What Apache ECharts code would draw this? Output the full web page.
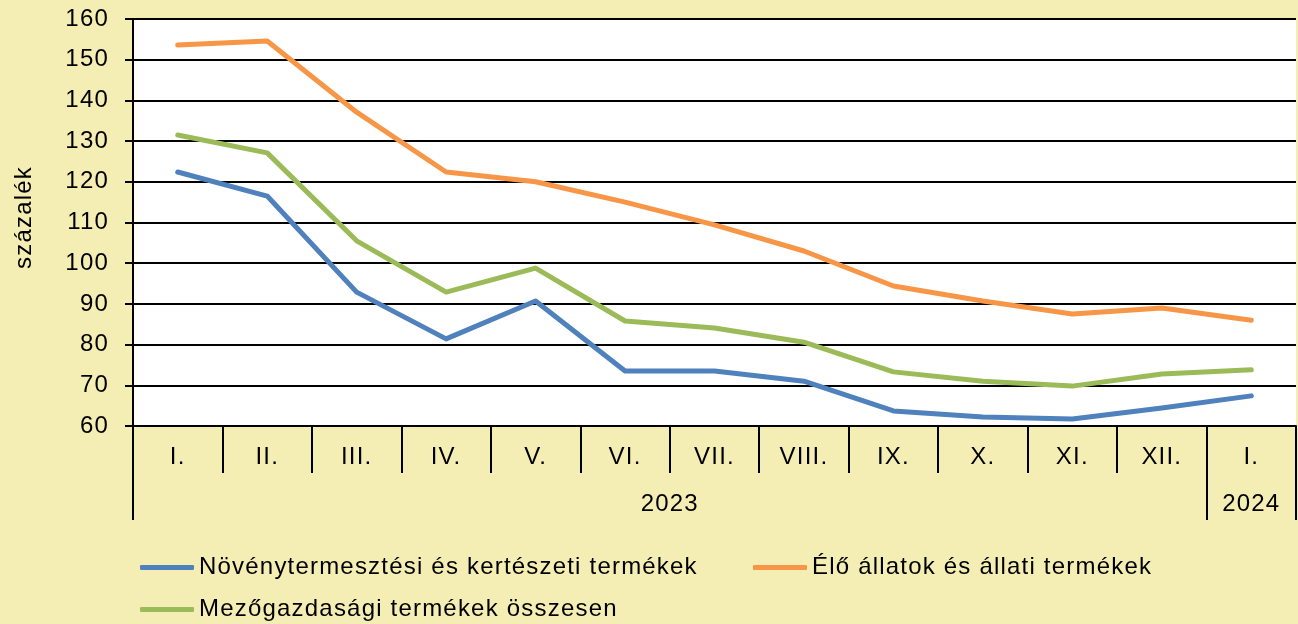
<!DOCTYPE html>
<html>
<head>
<meta charset="utf-8">
<script src="https://cdn.jsdelivr.net/npm/echarts@6/dist/echarts.min.js"></script>
<style>
  html, body { margin: 0; padding: 0; background: #F5EEB4; }
  #chart { width: 1298px; height: 624px; }
</style>
</head>
<body>
<div id="chart"></div>
<script>
// Monthly categories (2023 I. – 2024 I.)
const months = ['I.', 'II.', 'III.', 'IV.', 'V.', 'VI.', 'VII.', 'VIII.', 'IX.', 'X.', 'XI.', 'XII.', 'I.'];
// Year group labels: position on the group axis (in category units) and text
const yearLabelPos = [6, 12.5];
const yearLabels = ['2023', '2024'];
const yearBoundaries = [0, 12, 13];

const seriesNames = [
  'Növénytermesztési és kertészeti termékek',
  'Élő állatok és állati termékek',
  'Mezőgazdasági termékek összesen'
];
const crops   = [122.4, 116.5, 92.9, 81.4, 90.7, 73.5, 73.5, 71.0, 63.7, 62.2, 61.7, 64.4, 67.4];
const animals = [153.6, 154.6, 137.1, 122.4, 120.0, 115.0, 109.4, 103.0, 94.4, 90.7, 87.5, 89.0, 86.0];
const total   = [131.5, 127.1, 105.5, 92.9, 98.8, 85.8, 84.1, 80.6, 73.3, 71.0, 69.8, 72.8, 73.8];

const colors = ['#4F81BD', '#F79646', '#9BBB59'];
const font = 'Liberation Sans, Arial, sans-serif';
const fontSize = 24;

// Slightly tracked-out lettering for all chart text (canvas letterSpacing)
(function () {
  const proto = CanvasRenderingContext2D.prototype;
  const tracking = '1.2px';
  const origFill = proto.fillText;
  const origMeasure = proto.measureText;
  proto.fillText = function () { this.letterSpacing = tracking; return origFill.apply(this, arguments); };
  proto.measureText = function () { this.letterSpacing = tracking; return origMeasure.apply(this, arguments); };
})();

const chart = echarts.init(document.getElementById('chart'), null, { renderer: 'canvas' });

const legendBase = {
  orient: 'horizontal',
  icon: 'roundRect',
  itemWidth: 54,
  itemHeight: 5,
  itemGap: 10,
  padding: 0,
  textStyle: { fontFamily: font, fontSize: fontSize, color: '#000' }
};

chart.setOption({
  backgroundColor: '#F5EEB4',
  animation: false,
  color: colors,
  grid: {
    left: 133, right: 2, top: 19, bottom: 198,
    show: true, backgroundColor: '#FFFFFF', borderWidth: 0
  },
  legend: [
    Object.assign({}, legendBase, { data: [seriesNames[0]], left: 140, top: 555 }),
    Object.assign({}, legendBase, { data: [seriesNames[1]], left: 753, top: 555 }),
    Object.assign({}, legendBase, { data: [seriesNames[2]], left: 140, top: 597 })
  ],
  xAxis: [
    {
      type: 'category',
      data: months,
      boundaryGap: true,
      axisLine: { show: true, lineStyle: { color: '#000', width: 2 } },
      axisTick: { show: true, length: 47, alignWithLabel: false, lineStyle: { color: '#000', width: 2 } },
      axisLabel: { color: '#000', fontFamily: font, fontSize: fontSize, margin: 19, interval: 0 },
      splitLine: { show: false }
    },
    {
      type: 'value',
      position: 'bottom',
      min: 0, max: 13,
      axisLine: { show: false },
      axisTick: {
        show: true, length: 94, customValues: yearBoundaries,
        lineStyle: { color: '#000', width: 2 }
      },
      axisLabel: {
        color: '#000', fontFamily: font, fontSize: fontSize, margin: 66,
        customValues: yearLabelPos,
        formatter: function (v) {
          const i = yearLabelPos.indexOf(v);
          return i >= 0 ? yearLabels[i] : '';
        }
      },
      splitLine: { show: false }
    }
  ],
  yAxis: {
    type: 'value',
    min: 60, max: 160, interval: 10,
    name: 'százalék',
    nameLocation: 'middle',
    nameRotate: 90,
    nameGap: 96,
    nameTextStyle: { color: '#000', fontFamily: font, fontSize: fontSize, padding: [0, 0, 0, 10] },
    axisLine: { show: true, lineStyle: { color: '#000', width: 2 } },
    axisTick: { show: true, inside: false, length: 8, lineStyle: { color: '#000', width: 2 } },
    axisLabel: { color: '#000', fontFamily: font, fontSize: fontSize, margin: 24 },
    splitLine: { show: true, lineStyle: { color: '#000', width: 2 } }
  },
  series: [
    { name: seriesNames[0], type: 'line', data: crops, xAxisIndex: 0, symbol: 'none',
      lineStyle: { width: 5, color: colors[0], cap: 'round', join: 'round' } },
    { name: seriesNames[1], type: 'line', data: animals, xAxisIndex: 0, symbol: 'none',
      lineStyle: { width: 5, color: colors[1], cap: 'round', join: 'round' } },
    { name: seriesNames[2], type: 'line', data: total, xAxisIndex: 0, symbol: 'none',
      lineStyle: { width: 5, color: colors[2], cap: 'round', join: 'round' } }
  ]
});
</script>
</body>
</html>
